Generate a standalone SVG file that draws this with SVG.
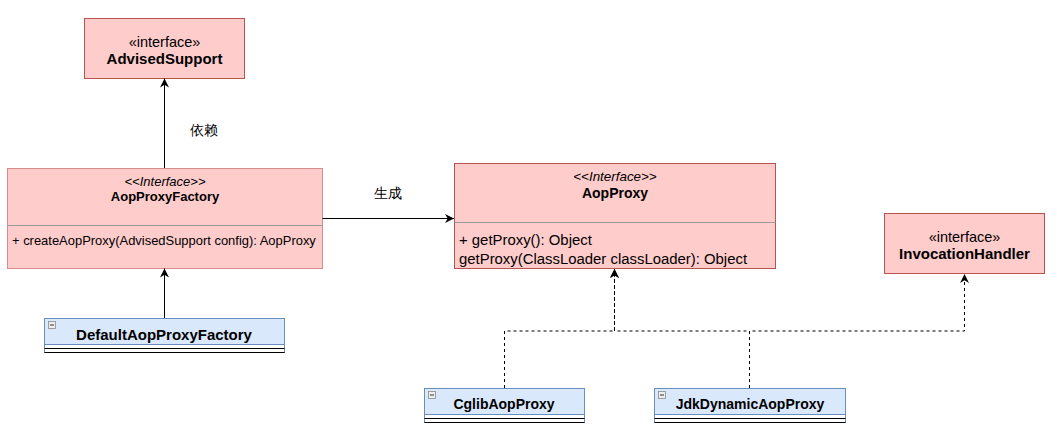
<svg xmlns="http://www.w3.org/2000/svg" width="1057" height="430" viewBox="0 0 1057 430">
<style>
text{font-family:"Liberation Sans",Arial,Helvetica,sans-serif;fill:#000}
.pink{fill:#ffcccc;stroke:#b85450;stroke-width:1}
.pink2{fill:#ffcccc;stroke:#d98c8a;stroke-width:1}
.sep{stroke:#9a9a9a;stroke-width:1}
.blue{fill:#dae8fc;stroke:#6c8ebf;stroke-width:1}
.body{fill:#ffffff;stroke:#6c8ebf;stroke-width:1}
.bl{stroke:#000;stroke-width:1.2}
.ico{fill:#eeeeee;stroke:#8a8a8a;stroke-width:0.8}
.b{font-weight:bold}
.i{font-style:italic}
.c{text-anchor:middle}
.edge{fill:none;stroke:#000;stroke-width:1}
.dash{fill:none;stroke:#000;stroke-width:1;stroke-dasharray:3 3}
</style>
<defs>
<marker id="arr" viewBox="0 0 10 10" refX="10" refY="5" markerWidth="9" markerHeight="9" markerUnits="userSpaceOnUse" orient="auto">
<path d="M0,0 L10,5 L0,10 L3,5 z" fill="#000"/>
</marker>
</defs>

<g id="AdvisedSupport">
<rect class="pink" x="84.5" y="18.5" width="160" height="60"/>
<text class="c" x="164.5" y="46.5" font-size="14.5">«interface»</text>
<text class="c b" x="164.5" y="63.5" font-size="15">AdvisedSupport</text>
</g>

<g id="AopProxyFactory">
<rect class="pink2" x="7.5" y="168.5" width="315" height="100"/>
<line class="sep" x1="7.5" y1="225.5" x2="322.5" y2="225.5"/>
<text class="c i" x="165" y="185.5" font-size="13">&lt;&lt;Interface&gt;&gt;</text>
<text class="c b" x="165" y="200.5" font-size="13">AopProxyFactory</text>
<text x="12" y="245" font-size="12.95">+ createAopProxy(AdvisedSupport config): AopProxy</text>
</g>

<g id="AopProxy">
<rect class="pink" x="454.5" y="163.5" width="321" height="105"/>
<line class="sep" x1="454.5" y1="222.5" x2="775.5" y2="222.5"/>
<text class="c i" x="615" y="181" font-size="13.4">&lt;&lt;Interface&gt;&gt;</text>
<text class="c b" x="615" y="197.5" font-size="14">AopProxy</text>
<text x="459" y="245" font-size="14.9">+ getProxy(): Object</text>
<text x="459" y="263.5" font-size="14.9">getProxy(ClassLoader classLoader): Object</text>
</g>

<g id="InvocationHandler">
<rect class="pink" x="884.5" y="213.5" width="160" height="60"/>
<text class="c" x="964.5" y="242" font-size="14.5">«interface»</text>
<text class="c b" x="964.5" y="258.5" font-size="15">InvocationHandler</text>
</g>

<g id="DefaultAopProxyFactory">
<rect class="blue" x="44.5" y="318.5" width="240" height="26"/>
<rect class="body" x="44.5" y="344.5" width="240" height="8"/>
<line class="bl" x1="44.5" y1="348.5" x2="284.5" y2="348.5"/>
<line class="bl" x1="44.5" y1="352.5" x2="284.5" y2="352.5"/>
<rect class="ico" x="48.5" y="321.5" width="7" height="7"/>
<line x1="50" y1="325" x2="54" y2="325" stroke="#333" stroke-width="1"/>
<text class="c b" x="164" y="339.5" font-size="15">DefaultAopProxyFactory</text>
</g>

<g id="CglibAopProxy">
<rect class="blue" x="424.5" y="388.5" width="160" height="26"/>
<rect class="body" x="424.5" y="414.5" width="160" height="8"/>
<line class="bl" x1="424.5" y1="418.5" x2="584.5" y2="418.5"/>
<line class="bl" x1="424.5" y1="422.5" x2="584.5" y2="422.5"/>
<rect class="ico" x="428.5" y="391.5" width="7" height="7"/>
<line x1="430" y1="395" x2="434" y2="395" stroke="#333" stroke-width="1"/>
<text class="c b" x="504" y="409" font-size="14">CglibAopProxy</text>
</g>

<g id="JdkDynamicAopProxy">
<rect class="blue" x="654.5" y="388.5" width="191" height="26"/>
<rect class="body" x="654.5" y="414.5" width="191" height="8"/>
<line class="bl" x1="654.5" y1="418.5" x2="845.5" y2="418.5"/>
<line class="bl" x1="654.5" y1="422.5" x2="845.5" y2="422.5"/>
<rect class="ico" x="658.5" y="391.5" width="7" height="7"/>
<line x1="660" y1="395" x2="664" y2="395" stroke="#333" stroke-width="1"/>
<text class="c b" x="750" y="409" font-size="14">JdkDynamicAopProxy</text>
</g>

<g id="connectors">
<path class="edge" d="M164.5,168 L164.5,78.5" marker-end="url(#arr)"/>
<text x="190" y="135" font-size="14" font-family="'Noto Sans CJK SC','Liberation Sans',sans-serif">依赖</text>
<path class="edge" d="M164.5,318 L164.5,268.5" marker-end="url(#arr)"/>
<path class="edge" d="M322.5,218.5 L454,218.5" marker-end="url(#arr)"/>
<text x="374" y="198" font-size="14" font-family="'Noto Sans CJK SC','Liberation Sans',sans-serif">生成</text>
<path class="dash" d="M504.5,388 L504.5,331 L614.5,331 L614.5,269" marker-end="url(#arr)"/>
<path class="dash" d="M749.5,388 L749.5,331 L614.5,331 L614.5,269" marker-end="url(#arr)"/>
<path class="dash" d="M749.5,388 L749.5,331 L964.5,331 L964.5,274" marker-end="url(#arr)"/>
</g>
</svg>
